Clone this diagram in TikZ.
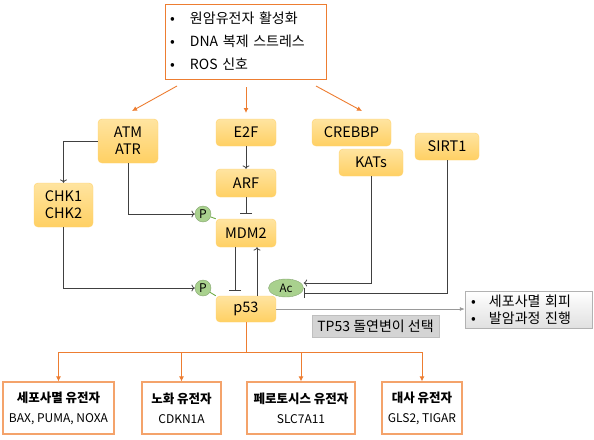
\documentclass[tikz,border=0pt]{standalone}
\usepackage{fontspec}
\setmainfont{Noto Sans CJK KR}
\usepackage{tikz}
\usetikzlibrary{arrows.meta,shapes.geometric}

\definecolor{boxtop}{HTML}{FFE4A0}
\definecolor{boxbot}{HTML}{FFD063}
\definecolor{boxline}{HTML}{FFD26E}
\definecolor{orng}{HTML}{ED7D31}
\definecolor{orngbox}{HTML}{F4A36B}
\definecolor{grn}{HTML}{A9D18E}
\definecolor{grnline}{HTML}{70AD47}

\begin{document}
\begin{tikzpicture}[x=1pt,y=-1pt,
    gene/.style={draw=boxline, rounded corners=4pt, top color=boxtop, bottom color=boxbot,
        minimum width=60pt, minimum height=27pt, inner sep=0pt, align=center,
        font=\fontsize{14.5}{17}\selectfont},
    phos/.style={circle, draw=grn!80!black, fill=grn, minimum size=16pt, inner sep=0pt,
        font=\fontsize{12}{12}\selectfont},
    outbox/.style={draw=orngbox, line width=1.2pt, fill=white, inner sep=0pt, align=center},
    orngarrow/.style={orng, line width=0.9pt, -{Latex[length=5pt,width=5pt]}},
    blk/.style={black!75, line width=0.8pt},
    grnlink/.style={grnline, line width=0.9pt}]

    \useasboundingbox (0,0) rectangle (594,439);

    % 신호
    \node[draw=orng, line width=0.8pt, fill=white, minimum height=75pt, text width=151pt,
        inner xsep=5pt, align=left, font=\fontsize{14}{23}\selectfont]
        (src) at (245.5,41.5) {\makebox[20pt][l]{•}원암유전자 활성화\\
        \makebox[20pt][l]{•}DNA 복제 스트레스\\
        \makebox[20pt][l]{•}ROS 신호};

    % 유전자
    \node[gene, minimum height=44pt] (atm) at (128,141) {ATM\\ATR};
    \node[gene, minimum width=59pt, minimum height=44pt] (chk) at (63.5,205) {CHK1\\CHK2};
    \node[gene] (e2f) at (246,132.5) {E2F};
    \node[gene, minimum height=28pt] (arf) at (246,183) {ARF};
    \node[gene, minimum height=28pt] (mdm) at (246,233) {MDM2};
    \node[gene, minimum height=26pt] (p53) at (246,309) {p53};
    \node[gene, minimum width=79pt] (crebbp) at (351.5,132.5) {CREBBP};
    \node[gene, minimum width=64pt] (kats) at (371,162.5) {KATs};
    \node[gene, minimum width=64pt] (sirt) at (447,146.5) {SIRT1};

    % 변형
    \node[phos] (pa) at (203,214) {P};
    \node[phos] (pb) at (203,288) {P};
    \node[ellipse, draw=grn!80!black, fill=grn, minimum width=35pt, minimum height=18pt,
        inner sep=0pt, font=\fontsize{11.5}{11.5}\selectfont] (ac) at (286,288) {Ac};

    \draw[grnlink] (pa) -- (mdm.north west);
    \draw[grnlink] (pb) -- (p53.north west);
    \draw[grnlink] (ac) -- (p53.north east);

    % 신호 화살표
    \coordinate (s1) at (177,86);   \coordinate (t1) at (132,111);
    \coordinate (s2) at (246,87);   \coordinate (t2) at (246,113);
    \coordinate (s3) at (316,86);   \coordinate (t3) at (362,111);
    \foreach \a/\b in {s1/t1, s2/t2, s3/t3}
        \draw[orngarrow] (\a) -- (\b);

    % 조절
    \draw[blk, ->] (atm.west) -| (chk.north);
    \draw[blk, ->] (atm.south) |- (pa.west);
    \draw[blk, ->] (chk.south) |- (pb.west);
    \draw[blk, ->] (e2f) -- (arf);
    \draw[blk, -{Bar[width=12pt]}, shorten >=5pt] (arf) -- (mdm);
    \draw[blk, -{Bar[width=12pt]}, shorten >=5pt] ([xshift=-11pt]mdm.south) -- ([xshift=-11pt]p53.north);
    \draw[blk, ->] ([xshift=11pt]p53.north) -- ([xshift=11pt]mdm.south);
    \draw[blk, ->] (kats.south) |- ([yshift=5pt]ac.east);
    \draw[blk, -{Bar[width=10pt]}] (sirt.south) |- ([yshift=-5pt]ac.east);

    % 돌연변이
    \node[draw=black!30, top color=white, bottom color=black!12, minimum width=127pt,
        minimum height=37pt, inner xsep=6pt, text width=115pt, align=left,
        font=\fontsize{14}{17}\selectfont] (out) at (528.5,309.5)
        {\makebox[18pt][l]{•}세포사멸 회피\\\makebox[18pt][l]{•}발암과정 진행};
    \node[draw=black!25, fill=black!17, minimum width=127pt, minimum height=22pt,
        inner sep=0pt, font=\fontsize{14}{14}\selectfont] (mut) at (375.5,326) {TP53 돌연변이 선택};
    \draw[black!40, line width=0.8pt, -{Latex[length=5pt,width=4pt]}] (p53.east) -- (out.west |- p53.east);

    % 표적 유전자
    \foreach \n/\x/\w/\t/\s in {
        g1/58.5/111/세포사멸 유전자/{BAX, PUMA, NOXA},
        g2/181.5/79/노화 유전자/CDKN1A,
        g3/301/108/페로토시스 유전자/SLC7A11,
        g4/422/80/대사 유전자/{GLS2, TIGAR}}
    {
        \node[outbox, minimum width=\w pt, minimum height=52pt] (\n) at (\x,408)
            {{\fontsize{12.5}{12.5}\selectfont\bfseries \t}\\[8pt]{\fontsize{12}{12}\selectfont \s}};
    }
    \coordinate (hub) at (246,352);
    \draw[orng, line width=0.9pt] (p53.south) -- (hub);
    \foreach \n in {g1,g2,g3,g4}
        \draw[orngarrow] (hub) -| (\n.north);
\end{tikzpicture}
\end{document}
